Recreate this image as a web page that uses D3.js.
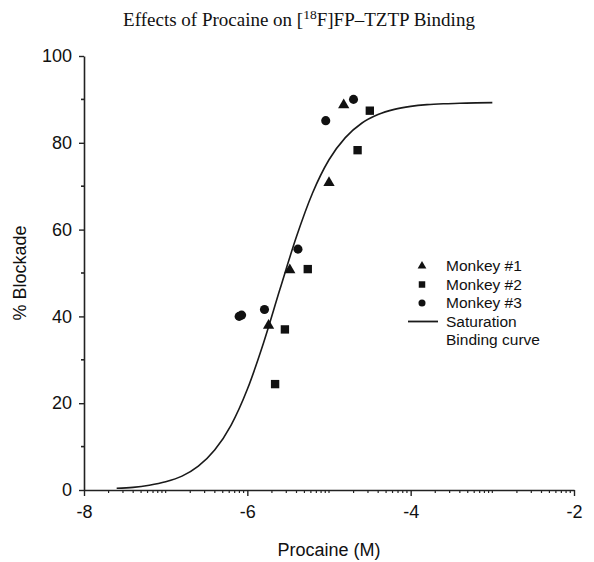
<!DOCTYPE html>
<html><head><meta charset="utf-8">
<script src="https://cdn.jsdelivr.net/npm/d3@7"></script>
<style>body{margin:0;background:#fff}svg{display:block}</style>
</head><body>
<svg id="chart" width="594" height="562"></svg>
<script>
// ---- data ----
const xTicks = [-8, -6, -4, -2];
const yTicks = [0, 20, 40, 60, 80, 100];
const seriesNames = ["Monkey #1", "Monkey #2", "Monkey #3"];
const monkey1 = [[-4.82, 88.7], [-5.00, 70.8], [-5.48, 50.7], [-5.74, 37.9]];
const monkey2 = [[-4.50, 87.4], [-4.65, 78.3], [-5.26, 50.9], [-5.54, 37.0], [-5.66, 24.4]];
const monkey3 = [[-4.70, 90.0], [-5.04, 85.1], [-5.38, 55.5], [-5.79, 41.6], [-6.07, 40.3], [-6.10, 40.0]];
const curveX = [-7.6, -7.4, -7.2, -7.0, -6.8, -6.6, -6.4, -6.2, -6.0, -5.8, -5.6, -5.4, -5.2, -5.0, -4.8, -4.6, -4.4, -4.2, -4.0, -3.8, -3.6, -3.4, -3.2, -3.0];
const curveY = [0.4, 0.6, 1.1, 1.9, 3.2, 5.5, 9.2, 14.9, 23.2, 34.0, 46.3, 58.3, 68.5, 76.1, 81.2, 84.5, 86.5, 87.7, 88.4, 88.8, 89.0, 89.1, 89.2, 89.25];

const svg = d3.select("#chart");
const x = d3.scaleLinear().domain([-8, -2]).range([84, 574]);
const y = d3.scaleLinear().domain([0, 100]).range([490, 56]);
const sans = "'Liberation Sans', Arial, sans-serif";

// title
const title = svg.append("text").attr("x", 299).attr("y", 26).attr("text-anchor", "middle")
  .attr("font-family", "'Liberation Serif', 'Times New Roman', serif").attr("font-size", 19).attr("fill", "#111");
title.append("tspan").text("Effects of Procaine on [");
title.append("tspan").attr("dy", -7).attr("font-size", 13.5).text("18");
title.append("tspan").attr("dy", 7).text("F]FP\u2013TZTP Binding");

// minor ticks on x (log-like within each unit)
const xMinor = [];
for (let d = -8; d < -2; d++) for (let k = 2; k <= 10; k++) { const v = d + Math.log10(k); if (!xTicks.includes(Math.round(v*1000)/1000)) xMinor.push(v); }
const xAxis = d3.axisBottom(x).tickValues(xTicks).tickSize(6).tickFormat(d3.format("d")).tickSizeOuter(0);
const gx = svg.append("g").attr("transform", "translate(0,490)").call(xAxis);
gx.selectAll("line.minor").data(xMinor).enter().append("line").attr("class","minor")
  .attr("x1", d => x(d)).attr("x2", d => x(d)).attr("y1", 0).attr("y2", 3).attr("stroke", "#222").attr("stroke-width", 1.2);
gx.select(".domain").attr("stroke", "#222").attr("stroke-width", 1.6);
gx.selectAll(".tick line").attr("stroke", "#222").attr("stroke-width", 1.4);
gx.selectAll(".tick text").attr("font-family", sans).attr("font-size", 18).attr("fill", "#111").attr("dy", "1.05em")
  .text(d => d < 0 ? "-" + Math.abs(d) : d);

const yAxis = d3.axisLeft(y).tickValues(yTicks).tickSize(5).tickSizeOuter(0);
const gy = svg.append("g").attr("transform", "translate(84,0)").call(yAxis);
gy.selectAll("line.minor").data([10, 30, 50, 70, 90]).enter().append("line").attr("class","minor")
  .attr("x1", -3).attr("x2", 0).attr("y1", d => y(d)).attr("y2", d => y(d)).attr("stroke", "#222").attr("stroke-width", 1.6);
gy.select(".domain").attr("stroke", "#222").attr("stroke-width", 1.6);
gy.selectAll(".tick line").attr("stroke", "#222").attr("stroke-width", 1.4);
gy.selectAll(".tick text").attr("font-family", sans).attr("font-size", 18).attr("fill", "#111").attr("x", -12);

// axis titles
svg.append("text").attr("x", x(-5)).attr("y", 556).attr("text-anchor", "middle")
  .attr("font-family", sans).attr("font-size", 18).attr("fill", "#111").text("Procaine (M)");
svg.append("text").attr("transform", "translate(26,273) rotate(-90)").attr("text-anchor", "middle")
  .attr("font-family", sans).attr("font-size", 18).attr("fill", "#111").text("% Blockade");

// curve
const curvePts = curveX.map((v, i) => [v, curveY[i]]);
svg.append("path").datum(curvePts).attr("fill", "none").attr("stroke", "#1a1a1a").attr("stroke-width", 1.6)
  .attr("d", d3.line().x(d => x(d[0])).y(d => y(d[1])).curve(d3.curveMonotoneX));

// markers
const sym = [d3.symbolTriangle, d3.symbolSquare, d3.symbolCircle];
const sizes = [55, 70, 65];
[monkey1, monkey2, monkey3].forEach((arr, i) => {
  svg.append("g").selectAll("path").data(arr).enter().append("path")
    .attr("transform", d => `translate(${x(d[0])},${y(d[1])})`)
    .attr("d", d3.symbol().type(sym[i]).size(sizes[i])).attr("fill", "#111");
});

// legend
const lg = svg.append("g");
const rows = [266, 284.5, 303];
seriesNames.forEach((n, i) => {
  lg.append("path").attr("transform", `translate(422,${rows[i]})`).attr("d", d3.symbol().type(sym[i]).size(sizes[i]*0.6)).attr("fill", "#111");
  lg.append("text").attr("x", 446).attr("y", rows[i]).attr("dy", "0.35em").attr("font-family", sans).attr("font-size", 15.5).attr("fill", "#111").text(n);
});
lg.append("line").attr("x1", 408).attr("x2", 438).attr("y1", 321.5).attr("y2", 321.5).attr("stroke", "#1a1a1a").attr("stroke-width", 1.8);
lg.append("text").attr("x", 446).attr("y", 321.5).attr("dy", "0.35em").attr("font-family", sans).attr("font-size", 15.5).attr("fill", "#111").text("Saturation");
lg.append("text").attr("x", 446).attr("y", 340).attr("dy", "0.35em").attr("font-family", sans).attr("font-size", 15.5).attr("fill", "#111").text("Binding curve");
</script>
</body></html>
